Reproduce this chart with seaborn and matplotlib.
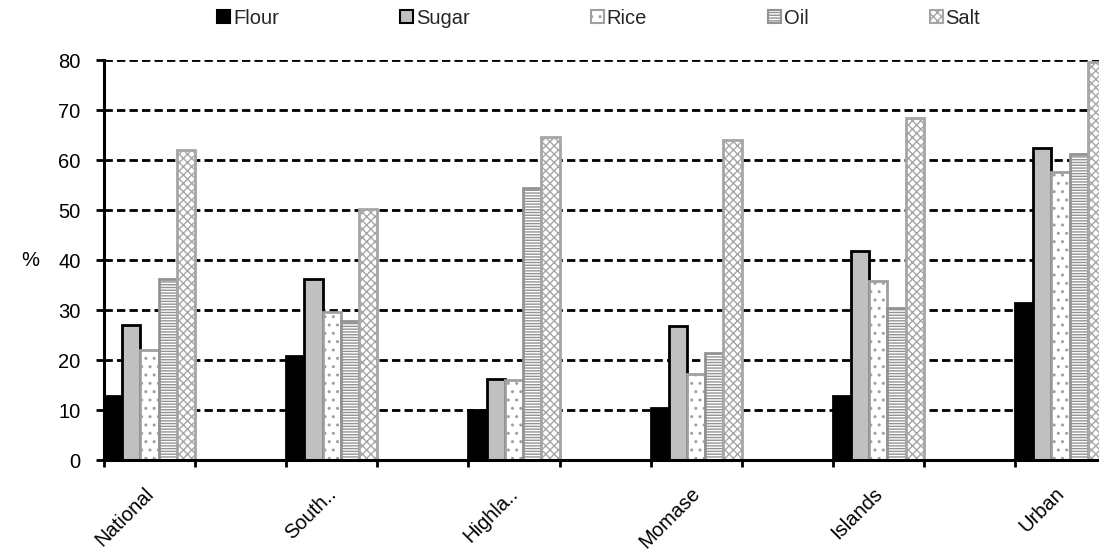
import numpy as np
import pandas as pd
import seaborn as sns
import matplotlib.pyplot as plt
from matplotlib.patches import Patch
from matplotlib.transforms import ScaledTranslation

regions = ['National', 'South..', 'Highla..', 'Momase', 'Islands', 'Urban']
items = ['Flour', 'Sugar', 'Rice', 'Oil', 'Salt']
flour = [12.8, 20.9, 10.0, 10.5, 12.8, 31.4]
sugar = [27.1, 36.2, 16.2, 26.8, 41.9, 62.4]
rice = [22.0, 29.6, 16.0, 17.2, 35.9, 57.6]
oil = [36.2, 27.9, 54.5, 21.4, 30.5, 61.2]
salt = [62.0, 50.3, 64.6, 64.0, 68.5, 79.7]
yticks = list(range(0, 81, 10))

df = pd.DataFrame({'region': regions, 'Flour': flour, 'Sugar': sugar,
                   'Rice': rice, 'Oil': oil, 'Salt': salt})
df = df.melt(id_vars='region', var_name='item', value_name='pct')

# every region is followed by an empty slot, like the excel original
order = []
for i, r in enumerate(regions):
    order += [r, '_gap%d' % i]

FS = 14.5

sns.set_theme(style='white')
plt.rcParams['font.family'] = ['Liberation Sans', 'DejaVu Sans']
plt.rcParams['hatch.linewidth'] = 1.0

fig = plt.figure(figsize=(10.99, 5.54), dpi=100)
ax = fig.add_axes([104 / 1099, 1 - 460 / 554, 1 - 104 / 1099, 400 / 554])

sns.barplot(data=df, x='region', y='pct', hue='item', order=order,
            hue_order=items, width=1.0, gap=0, dodge=True, legend=False,
            errorbar=None, ax=ax)

styles = {
    'Flour': dict(facecolor='black', edgecolor='black', hatch=None),
    'Sugar': dict(facecolor='#c0c0c0', edgecolor='black', hatch=None),
    'Rice': dict(facecolor='white', edgecolor='#a0a0a0', hatch='..'),
    'Oil': dict(facecolor='white', edgecolor='#939393', hatch='------'),
    'Salt': dict(facecolor='white', edgecolor='#a6a6a6', hatch='xxxx'),
}
for cont, item in zip(ax.containers, items):
    st = styles[item]
    for bar in cont:
        bar.set_facecolor(st['facecolor'])
        bar.set_edgecolor(st['edgecolor'])
        bar.set_linewidth(2.0)
        if st['hatch']:
            bar.set_hatch(st['hatch'])

ax.set_yticks(yticks)
ax.set_xticks(range(0, 12, 2), regions)
ax.set_xticks(np.arange(-0.5, 12, 1), minor=True)
# limits after the ticks, set_xticks would widen them
ax.set_ylim(0, 80)
ax.set_xlim(-0.5, -0.5 + (1099 - 104) / 91.1)

ax.set_axisbelow(True)
ax.yaxis.grid(True, color='black', lw=2, linestyle=(0, (3, 1.5)))
ax.xaxis.grid(False)

sns.despine(ax=ax, top=True, right=True)
for s in ['left', 'bottom']:
    ax.spines[s].set_color('black')
    ax.spines[s].set_linewidth(2.2)

ax.tick_params(axis='y', length=6, width=2, pad=11, color='black',
               labelsize=FS, labelcolor='black', left=True)
ax.tick_params(axis='x', which='major', length=0, pad=25, labelsize=FS,
               labelcolor='black')
ax.tick_params(axis='x', which='minor', length=5, width=2, color='black',
               bottom=True, direction='out')

shift = ScaledTranslation(5 / 100, 0, fig.dpi_scale_trans)
for lab in ax.get_xticklabels():
    lab.set_rotation(45)
    lab.set_rotation_mode('anchor')
    lab.set_ha('right')
    lab.set_va('baseline')
    lab.set_transform(lab.get_transform() + shift)

ax.set_xlabel('')
ax.set_ylabel('%', rotation=0, fontsize=FS, color='black',
              ha='center', va='center')
ax.yaxis.set_label_coords((30 - 104) / 995, 0.5)

handles = [Patch(facecolor=styles[i]['facecolor'],
                 edgecolor=styles[i]['edgecolor'],
                 hatch=styles[i]['hatch'], lw=1.5) for i in items]
fig.legend(handles, items, loc='center left',
           bbox_to_anchor=(217 / 1099, 1 - 18 / 554), ncol=5,
           frameon=False, borderpad=0, borderaxespad=0,
           handlelength=0.65, handleheight=0.65, handletextpad=0.15,
           columnspacing=6.0, fontsize=FS)

fig.savefig('out.png', dpi=100)
